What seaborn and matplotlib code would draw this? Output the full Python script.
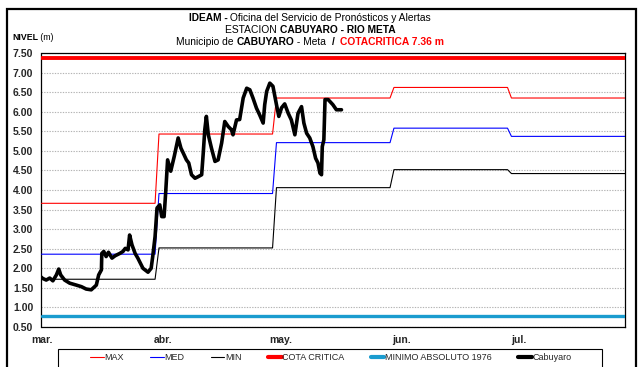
import numpy as np
import pandas as pd
import matplotlib
matplotlib.use("Agg")
import matplotlib.pyplot as plt
from matplotlib.patches import Rectangle
from matplotlib.lines import Line2D
from matplotlib.ticker import FormatStrFormatter
import seaborn as sns

# ---- data -----------------------------------------------------------------
start_date = "2024-03-01"
end_date = "2024-07-28"

# historical statistics, constant over 30-day blocks
block_start = ["2024-03-01", "2024-03-31", "2024-04-30", "2024-05-30", "2024-06-29"]
max_vals = [3.66, 5.43, 6.35, 6.62, 6.35]
med_vals = [2.36, 3.91, 5.21, 5.58, 5.37]
min_vals = [1.72, 2.52, 4.06, 4.52, 4.42]

cota_critica = 7.36
minimo_absoluto = 0.77

# observed level at Cabuyaro (days since 1 March)
cab_day = [0.0, 0.1, 1.2, 2.1, 2.9, 3.8, 4.4, 4.9, 5.9, 7.2, 8.9, 10.2, 11.4, 12.7,
           14.0, 14.6, 15.3, 15.4, 15.9, 16.5, 17.1, 18.0, 18.8, 20.0, 20.8, 21.4,
           22.1, 22.5, 23.1, 23.9, 24.6, 25.9, 27.2, 28.0, 28.4, 29.0, 29.5, 30.2,
           30.7, 31.3, 31.7, 32.2, 33.0, 33.9, 34.9, 35.6, 36.4, 37.0, 37.6, 38.3,
           39.2, 40.0, 40.9, 41.3, 41.7, 42.1, 42.6, 43.4, 44.3, 45.1, 46.0, 46.8,
           47.7, 48.5, 48.9, 49.8, 50.6, 51.5, 52.4, 53.2, 54.0, 54.9, 55.7, 56.6,
           57.0, 57.5, 58.3, 59.1, 60.0, 60.6, 61.3, 62.1, 63.0, 63.8, 64.7, 65.5,
           66.4, 67.0, 67.7, 68.5, 69.3, 70.0, 70.6, 71.1, 71.5, 71.7, 72.1, 72.4,
           73.2, 74.4, 75.3, 76.6]
cab_val = [1.77, 1.75, 1.70, 1.75, 1.68, 1.83, 1.98, 1.83, 1.70, 1.62, 1.57, 1.53,
           1.47, 1.45, 1.57, 1.83, 1.96, 2.38, 2.43, 2.30, 2.41, 2.26, 2.32, 2.38,
           2.43, 2.51, 2.47, 2.85, 2.60, 2.38, 2.26, 2.00, 1.90, 2.00, 2.30, 2.81,
           3.54, 3.62, 3.32, 3.32, 3.92, 4.77, 4.48, 4.86, 5.33, 5.07, 4.90, 4.77,
           4.69, 4.39, 4.30, 4.34, 4.39, 4.94, 5.54, 5.88, 5.41, 5.07, 4.73, 4.77,
           5.20, 5.75, 5.62, 5.54, 5.41, 5.79, 5.80, 6.35, 6.60, 6.56, 6.35, 6.09,
           5.92, 5.71, 6.18, 6.52, 6.73, 6.65, 6.18, 5.88, 6.10, 6.20, 5.96, 5.79,
           5.41, 5.96, 6.13, 5.71, 5.45, 5.33, 5.11, 4.81, 4.69, 4.43, 4.39, 5.11,
           5.28, 6.31, 6.31, 6.18, 6.05, 6.05]

month_ticks = ["2024-03-01", "2024-04-01", "2024-05-01", "2024-06-01", "2024-07-01"]
month_labels = ["mar.", "abr.", "may.", "jun.", "jul."]

# ---- tables -----------------------------------------------------------------
days = pd.date_range(start_date, end_date, freq="D")
idx = np.searchsorted(pd.to_datetime(block_start).values, days.values, side="right") - 1
stats = pd.DataFrame({
    "fecha": days,
    "MAX": np.array(max_vals)[idx],
    "MED": np.array(med_vals)[idx],
    "MIN": np.array(min_vals)[idx],
    "COTA CRITICA": cota_critica,
    "MINIMO ABSOLUTO 1976": minimo_absoluto,
})
obs = pd.DataFrame({
    "fecha": pd.Timestamp(start_date) + pd.to_timedelta(cab_day, unit="D"),
    "nivel": cab_val,
})

# ---- style ------------------------------------------------------------------
sns.set_theme(style="white")
plt.rcParams["font.family"] = ["Liberation Sans Narrow", "Liberation Sans", "DejaVu Sans"]
narrow = ["Liberation Sans Narrow", "Liberation Sans", "DejaVu Sans"]
regular = ["Liberation Sans", "DejaVu Sans"]

W, H = 639, 367
fig = plt.figure(figsize=(W / 100, H / 100), dpi=100)
ax = fig.add_axes([41.5 / W, 1 - 327 / H, (625 - 41.5) / W, (327 - 53) / H])

styles = {
    "MAX": dict(color="#ff0000", lw=0.8),
    "MED": dict(color="#0000ff", lw=0.8),
    "MIN": dict(color="#000000", lw=0.8),
    "COTA CRITICA": dict(color="#ff0000", lw=2.8),
    "MINIMO ABSOLUTO 1976": dict(color="#1a9ccf", lw=2.4),
}
for name, st in styles.items():
    sns.lineplot(data=stats, x="fecha", y=name, ax=ax, color=st["color"],
                 linewidth=st["lw"], zorder=3)
sns.lineplot(data=obs, x="fecha", y="nivel", ax=ax, color="black", linewidth=2.6,
             estimator=None, sort=False, zorder=4)

# ---- axes -------------------------------------------------------------------
ax.set_xlim(pd.Timestamp(start_date), pd.Timestamp(end_date))
ax.set_ylim(0.5, 7.5)
ax.set_yticks(np.arange(0.5, 7.51, 0.5))
ax.yaxis.set_major_formatter(FormatStrFormatter("%.2f"))
ax.set_xticks(pd.to_datetime(month_ticks))
ax.set_xticklabels(month_labels)
ax.set_xlabel("")
ax.set_ylabel("")
ax.grid(axis="y", color="#b4b4b4", linestyle=(0, (1.2, 1.2)), linewidth=0.8, zorder=1)
ax.grid(axis="x", visible=False)
ax.tick_params(axis="both", direction="out", length=3, width=0.8, color="black",
               labelsize=7.5, pad=3)
for lab in ax.get_xticklabels() + ax.get_yticklabels():
    lab.set_fontweight("bold")
    lab.set_family(regular)
for sp in ax.spines.values():
    sp.set_color("black")
    sp.set_linewidth(0.9)

# ---- titles -----------------------------------------------------------------
fig.canvas.draw()
renderer = fig.canvas.get_renderer()


def piece_width(s, **kw):
    t1 = fig.text(0, 0, s + "|", **kw)
    t2 = fig.text(0, 0, "|", **kw)
    w = t1.get_window_extent(renderer).width - t2.get_window_extent(renderer).width
    t1.remove()
    t2.remove()
    return w


def rich_line(x_px, y_px, pieces, size, align="center"):
    widths = [piece_width(s, fontsize=size, fontweight=w, family=narrow)
              for s, w, c in pieces]
    x = x_px - sum(widths) / 2 if align == "center" else x_px
    for (s, w, c), wd in zip(pieces, widths):
        fig.text(x / W, 1 - y_px / H, s, fontsize=size, fontweight=w, color=c,
                 family=narrow, ha="left", va="center")
        x += wd


rich_line(310, 18, [("IDEAM -", "bold", "black"),
                    (" Oficina del Servicio de Pronósticos y Alertas", "normal", "black")], 7.4)
rich_line(310, 30, [("ESTACION ", "normal", "black"),
                    ("CABUYARO - RIO META", "bold", "black")], 7.4)
rich_line(310, 42, [("Municipio de ", "normal", "black"),
                    ("CABUYARO", "bold", "black"),
                    (" - Meta  ", "normal", "black"),
                    ("/  ", "bold", "black"),
                    ("COTACRITICA 7.36 m", "bold", "#ff0000")], 7.4)

rich_line(12, 37, [("NIVEL", "bold", "black"), (" (m)", "normal", "black")], 6.3,
          align="left")

# ---- legend -----------------------------------------------------------------
handles = [Line2D([], [], color=st["color"], lw=st["lw"] if st["lw"] < 2 else 3.0)
           for st in styles.values()]
handles.append(Line2D([], [], color="black", lw=3.0))
labels = list(styles.keys()) + ["Cabuyaro"]
fig.legend(handles, labels, loc="center", bbox_to_anchor=(331 / W, 1 - 358 / H),
           ncol=6, frameon=False, prop={"family": narrow, "size": 6.5},
           handlelength=1.5, handletextpad=0.1, columnspacing=2.9, borderpad=0)
fig.add_artist(Rectangle((58 / W, -0.1), (602 - 58) / W, 0.1 + 1 - 349.5 / H,
                         transform=fig.transFigure, fill=False, edgecolor="black",
                         linewidth=0.8, clip_on=False))

# outer frame
fig.add_artist(Rectangle((6.5 / W, -0.2), (636 - 6.5) / W, 0.2 + 1 - 9 / H,
                         transform=fig.transFigure, fill=False, edgecolor="black",
                         linewidth=1.6, clip_on=False))

fig.savefig("out.png", dpi=100)
